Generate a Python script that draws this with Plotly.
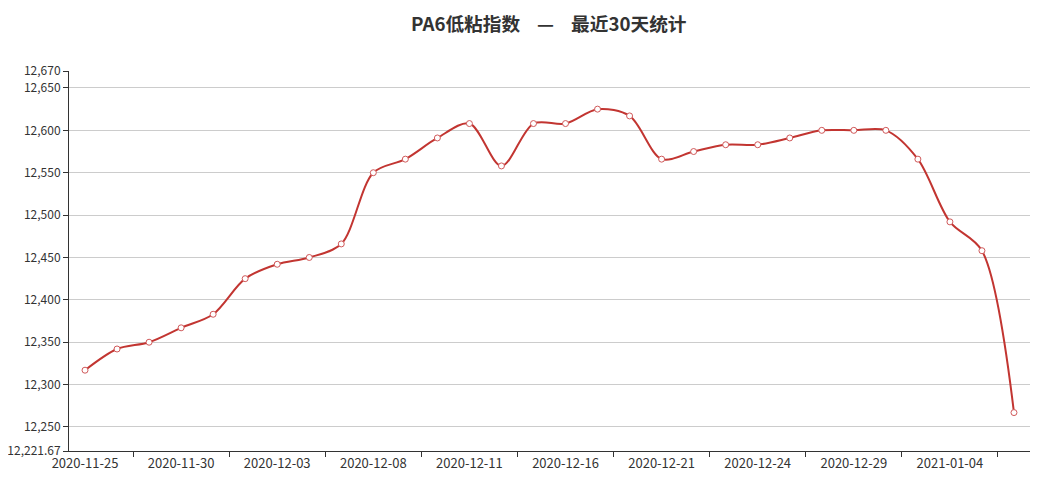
import plotly.graph_objects as go

dates = ["2020-11-25", "2020-11-26", "2020-11-27", "2020-11-30", "2020-12-01", "2020-12-02",
         "2020-12-03", "2020-12-04", "2020-12-07", "2020-12-08", "2020-12-09", "2020-12-10",
         "2020-12-11", "2020-12-14", "2020-12-15", "2020-12-16", "2020-12-17", "2020-12-18",
         "2020-12-21", "2020-12-22", "2020-12-23", "2020-12-24", "2020-12-25", "2020-12-28",
         "2020-12-29", "2020-12-30", "2020-12-31", "2021-01-04", "2021-01-05", "2021-01-06"]
values = [12317, 12342, 12350, 12367, 12383, 12425, 12442, 12450, 12466, 12550,
          12566, 12591, 12608, 12558, 12608, 12608, 12625, 12617, 12566, 12575,
          12583, 12583, 12591, 12600, 12600, 12600, 12566, 12492, 12458, 12267]
y_min = 12221.67
y_max = 12670
y_ticks = [12221.67, 12250, 12300, 12350, 12400, 12450, 12500, 12550, 12600, 12650, 12670]
y_ticktext = ["12,221.67", "12,250", "12,300", "12,350", "12,400", "12,450", "12,500",
              "12,550", "12,600", "12,650", "12,670"]
label_every = 3

n = len(dates)
label_vals = dates[::label_every]
boundary_ticks = [i + 1.5 for i in range(0, n - 1, label_every)]

fig = go.Figure()
fig.add_trace(go.Scatter(
    x=dates, y=values, mode="lines+markers",
    line=dict(color="#c23531", width=2, shape="spline", smoothing=0.9),
    marker=dict(symbol="circle", size=6, color="white",
                line=dict(color="#d0595a", width=1)),
    hoverinfo="x+y", showlegend=False,
))
fig.add_trace(go.Scatter(
    x=[-0.5, n - 0.5], y=[y_min, y_min], xaxis="x2", mode="lines",
    line=dict(width=0), hoverinfo="skip", showlegend=False,
))

font_family = "Noto Sans CJK SC, Microsoft YaHei, sans-serif"
sp = "\u00a0" * 4
fig.update_layout(
    width=1046, height=498,
    paper_bgcolor="white", plot_bgcolor="white",
    margin=dict(l=61, r=24, t=63, b=55, autoexpand=False),
    font=dict(family=font_family, size=12, color="#333"),
    title=dict(
        text="<b>PA6低粘指数" + sp + "—" + sp + "最近30天统计</b>",
        x=0.517, xanchor="center", xref="container",
        y=0.966, yanchor="middle", yref="container",
        font=dict(size=18.7, color="#333", family=font_family),
    ),
    xaxis=dict(
        type="category", categoryorder="array", categoryarray=dates,
        range=[-0.5, n - 0.5],
        tickmode="array", tickvals=label_vals, ticktext=label_vals,
        ticks="", showline=True, linecolor="#333", linewidth=1,
        showgrid=False, zeroline=False, automargin=False,
        tickfont=dict(size=13, color="#333"),
    ),
    xaxis2=dict(
        overlaying="x", anchor="y", side="bottom", type="linear",
        range=[-0.5, n - 0.5],
        tickmode="array", tickvals=boundary_ticks,
        ticks="outside", ticklen=5, tickcolor="#333", tickwidth=1,
        showticklabels=False, showgrid=False, zeroline=False, showline=False,
    ),
    yaxis=dict(
        range=[y_min, y_max],
        tickmode="array", tickvals=y_ticks, ticktext=y_ticktext,
        ticks="outside", ticklen=5, tickcolor="#333",
        showline=True, linecolor="#333", linewidth=1, automargin=False,
        showgrid=True, gridcolor="#ccc", gridwidth=1, zeroline=False,
        tickfont=dict(size=12, color="#333"),
    ),
)

fig.write_html("out.html")
